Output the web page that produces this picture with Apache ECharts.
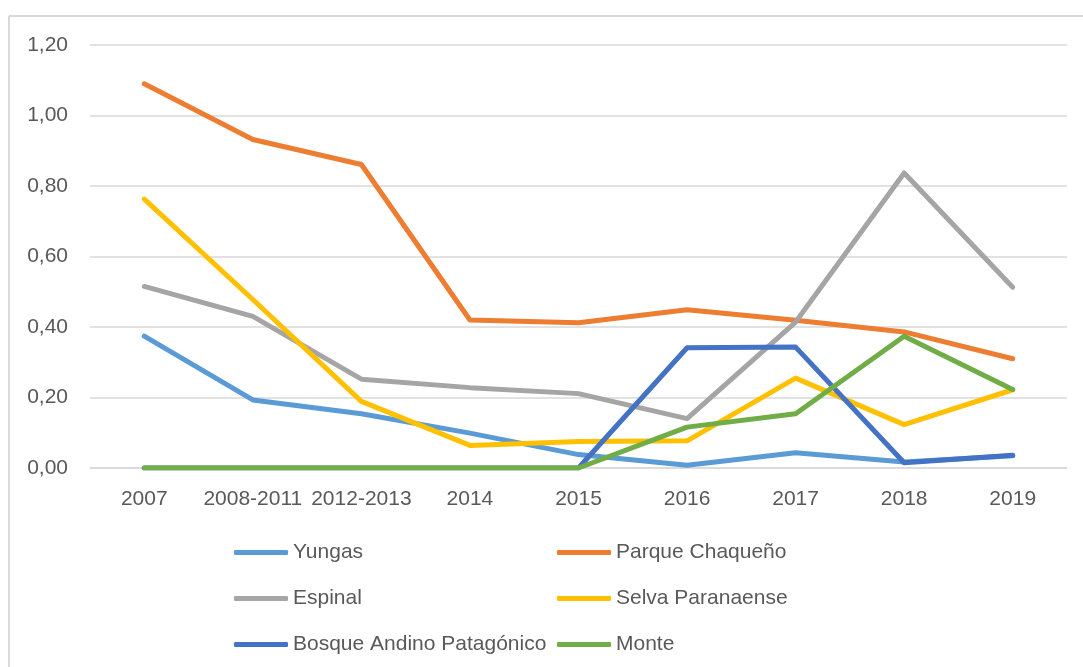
<!DOCTYPE html>
<html>
<head>
<meta charset="utf-8">
<script src="https://cdn.jsdelivr.net/npm/echarts@6/dist/echarts.min.js"></script>
<style>
  html, body { margin: 0; padding: 0; background: #fff; }
  #main { width: 1083px; height: 667px; }
</style>
</head>
<body>
<div id="main"></div>
<script>
var categories = ['2007', '2008-2011', '2012-2013', '2014', '2015', '2016', '2017', '2018', '2019'];
var yungas    = [0.374, 0.193, 0.154, 0.099, 0.038, 0.008, 0.043, 0.017, 0.035];
var chaqueno  = [1.090, 0.932, 0.861, 0.420, 0.412, 0.449, 0.419, 0.386, 0.310];
var espinal   = [0.515, 0.430, 0.252, 0.228, 0.211, 0.140, 0.414, 0.837, 0.513];
var selva     = [0.763, 0.478, 0.189, 0.064, 0.075, 0.077, 0.255, 0.123, 0.222];
var bosque    = [0, 0, 0, 0, 0, 0.341, 0.343, 0.015, 0.036];
var monte     = [0, 0, 0, 0, 0, 0.116, 0.154, 0.374, 0.223];

var textColor = '#595959';
var fontName = 'Liberation Sans';

function line(name, data, color) {
  return {
    name: name,
    type: 'line',
    data: data,
    symbol: 'none',
    lineStyle: { color: color, width: 5, cap: 'round', join: 'round' },
    itemStyle: { color: color }
  };
}

var myChart = echarts.init(document.getElementById('main'));
var option = {
  animation: false,
  textStyle: { fontFamily: fontName, color: textColor },
  graphic: [
    { type: 'line', shape: { x1: 9, y1: 16, x2: 1083, y2: 16 }, style: { stroke: '#d9d9d9', lineWidth: 2 } },
    { type: 'line', shape: { x1: 9, y1: 16, x2: 9, y2: 667 }, style: { stroke: '#d9d9d9', lineWidth: 2 } }
  ],
  grid: { left: 90, right: 16, top: 45, bottom: 199 },
  legend: [
    {
      orient: 'vertical', left: 234, top: 542, padding: 0, itemGap: 25,
      icon: 'roundRect', itemWidth: 54, itemHeight: 5,
      textStyle: { fontSize: 21, color: textColor, fontFamily: fontName },
      data: ['Yungas', 'Espinal', 'Bosque Andino Patagónico']
    },
    {
      orient: 'vertical', left: 557, top: 542, padding: 0, itemGap: 25,
      icon: 'roundRect', itemWidth: 54, itemHeight: 5,
      textStyle: { fontSize: 21, color: textColor, fontFamily: fontName },
      data: ['Parque Chaqueño', 'Selva Paranaense', 'Monte']
    }
  ],
  xAxis: {
    type: 'category',
    data: categories,
    axisTick: { show: false },
    axisLine: { lineStyle: { color: '#d9d9d9', width: 1.5 } },
    axisLabel: { interval: 0, fontSize: 21, color: textColor, margin: 21 }
  },
  yAxis: {
    type: 'value',
    min: 0, max: 1.2, interval: 0.2,
    axisLine: { show: false },
    axisTick: { show: false },
    splitLine: { lineStyle: { color: '#d9d9d9', width: 1.5 } },
    axisLabel: {
      fontSize: 21, color: textColor, margin: 22,
      formatter: function (v) { return v.toFixed(2).replace('.', ','); }
    }
  },
  series: [
    line('Yungas', yungas, '#5B9BD5'),
    line('Parque Chaqueño', chaqueno, '#ED7D31'),
    line('Espinal', espinal, '#A5A5A5'),
    line('Selva Paranaense', selva, '#FFC000'),
    line('Bosque Andino Patagónico', bosque, '#4472C4'),
    line('Monte', monte, '#70AD47')
  ]
};
myChart.setOption(option);
</script>
</body>
</html>
